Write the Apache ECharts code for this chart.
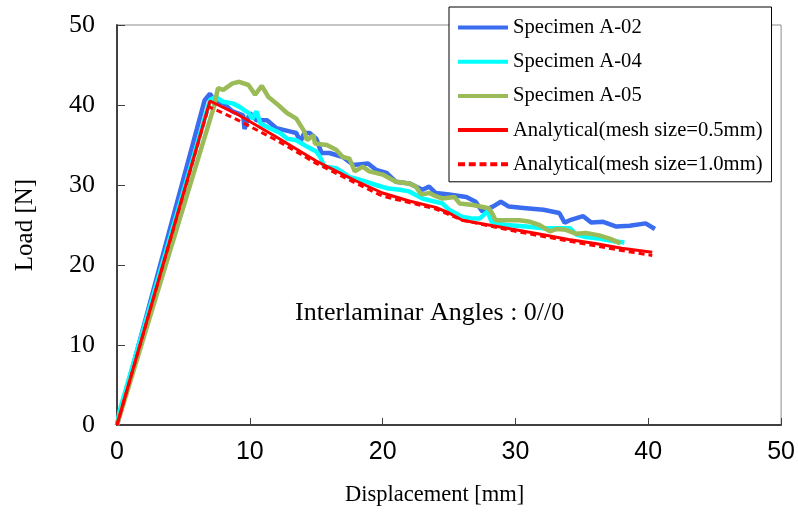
<!DOCTYPE html>
<html>
<head>
<meta charset="utf-8">
<script src="https://cdn.jsdelivr.net/npm/echarts@6/dist/echarts.min.js"></script>
<style>html,body{margin:0;padding:0;background:#fff;}#c{width:798px;height:513px;}</style>
</head>
<body>
<div id="c"></div>
<script>
// Tick labels
var xTicks = [0, 10, 20, 30, 40, 50];
var yTicks = [0, 10, 20, 30, 40, 50];
var seriesNames = ['Specimen A-02', 'Specimen A-04', 'Specimen A-05', 'Analytical(mesh size=0.5mm)', 'Analytical(mesh size=1.0mm)'];

// [displacement mm, load N]
var specimenA02 = [[0,0],[6.6,40.6],[7.0,41.4],[7.4,40.4],[8.0,40.2],[8.7,39.2],[9.5,38.7],[9.6,37.0],[10.0,39.0],[10.5,38.1],[11.3,38.1],[12.0,37.1],[13.0,36.7],[13.5,36.5],[13.8,35.4],[14.1,36.5],[14.5,36.5],[15.0,35.8],[15.4,34.0],[16.0,34.0],[17.0,33.5],[17.8,32.5],[18.9,32.7],[19.5,31.9],[20.3,31.5],[21.0,30.4],[22.0,30.2],[23.0,29.4],[23.5,29.8],[24.0,29.0],[25.0,28.8],[26.3,28.5],[27.0,27.9],[27.5,26.7],[28.3,27.3],[28.9,27.9],[29.5,27.3],[30.8,27.1],[32.1,26.9],[33.3,26.5],[33.7,25.3],[34.1,25.6],[35.1,26.1],[35.7,25.3],[36.6,25.4],[37.6,24.8],[38.6,24.9],[39.8,25.2],[40.5,24.5]];
var specimenA04 = [[0,0],[0.2,1.8],[7.0,40.6],[7.4,41.0],[8.0,40.4],[8.7,40.2],[9.2,39.8],[9.9,39.0],[10.2,38.3],[10.5,39.2],[10.8,37.7],[11.5,37.1],[12.3,36.5],[12.8,35.8],[13.5,35.6],[14.3,34.8],[15.0,34.2],[15.3,33.5],[15.6,32.3],[16.5,32.1],[17.5,31.0],[18.0,30.8],[18.8,30.4],[19.5,30.0],[20.3,29.6],[21.3,29.4],[22.0,29.2],[23.0,28.3],[23.5,28.1],[24.5,27.7],[25.0,26.9],[26.0,26.0],[26.8,25.8],[27.3,25.8],[27.9,26.7],[28.2,25.4],[29.3,25.0],[30.8,24.8],[32.1,24.6],[33.3,24.6],[34.1,24.6],[34.6,23.8],[35.3,23.5],[36.3,23.3],[37.3,23.0],[38.2,22.8]];
var specimenA05 = [[0,0],[7.3,39.8],[7.6,42.1],[8.0,41.9],[8.7,42.7],[9.2,42.9],[9.9,42.5],[10.4,41.3],[10.9,42.4],[11.4,41.0],[12.0,40.2],[12.8,39.0],[13.5,38.3],[14.1,36.7],[14.3,35.6],[14.8,36.2],[14.9,35.2],[15.8,35.0],[16.5,34.4],[17.0,33.5],[17.5,33.3],[17.9,31.7],[18.5,32.3],[19.0,31.7],[20.0,31.3],[21.0,30.4],[22.0,30.2],[22.5,29.8],[22.9,28.8],[23.5,29.0],[24.0,28.6],[24.5,28.3],[25.4,28.5],[25.8,27.7],[26.8,27.5],[28.0,27.1],[28.3,26.3],[28.5,25.6],[29.3,25.6],[30.3,25.6],[31.1,25.4],[31.8,25.0],[32.6,24.2],[33.1,24.5],[33.8,24.4],[34.6,23.9],[35.3,24.0],[36.3,23.7],[37.1,23.3],[37.9,22.7]];
var analytical05 = [[0,0],[7.0,40.5],[9,38.9],[12,36.0],[15,33.0],[18,30.5],[20,29.0],[22,28.0],[24,27.2],[25,26.5],[26,25.6],[28,25.0],[30,24.4],[32,23.8],[34,23.2],[36,22.7],[38,22.1],[40.3,21.6]];
var analytical10 = [[0,0],[6.9,39.8],[9,38.2],[12,35.6],[15,32.7],[18,30.2],[20,28.6],[22,27.8],[24,27.0],[26,25.6],[28,24.9],[30,24.2],[32,23.6],[34,23.0],[36,22.4],[38,21.8],[40.3,21.2]];

var serif = '"Liberation Serif", "Times New Roman", serif';
var dashIcon = 'path://M0,0h7v4h-7z M10.75,0h7v4h-7z M21.5,0h7v4h-7z M32.25,0h7v4h-7z M43,0h7v4h-7z';
var legendData = seriesNames.map(function (n, i) {
  return {name: n, icon: i === 4 ? dashIcon : 'rect'};
});
var chart = echarts.init(document.getElementById('c'), null, {renderer: 'canvas'});
chart.setOption({
  animation: false,
  backgroundColor: '#fff',
  grid: {left: 117, right: 16, top: 25, bottom: 88, show: true, borderColor: '#8c8c8c', borderWidth: 1},
  legend: {
    orient: 'vertical', left: 449, top: 7,
    padding: [10, 9, 7, 9], itemGap: 13.2, itemWidth: 50, itemHeight: 4,
    backgroundColor: '#fff', borderColor: '#000', borderWidth: 1,
    textStyle: {fontFamily: serif, fontSize: 20.6, color: '#000', lineHeight: 20, padding: [0,0,0,0]},
    data: legendData
  },
  xAxis: {
    type: 'value', min: xTicks[0], max: xTicks[xTicks.length-1], interval: 10,
    axisLine: {show: true, lineStyle: {color: '#404040', width: 2}},
    axisTick: {show: true, inside: true, length: 7, lineStyle: {color: '#404040', width: 1}},
    axisLabel: {fontFamily: '"Liberation Sans Narrow", "Liberation Sans", Arial, sans-serif', fontSize: 25, color: '#000', margin: 15},
    splitLine: {show: false}
  },
  yAxis: {
    type: 'value', min: yTicks[0], max: yTicks[yTicks.length-1], interval: 10,
    axisLine: {show: true, lineStyle: {color: '#404040', width: 2}},
    axisTick: {show: true, inside: true, length: 8, lineStyle: {color: '#404040', width: 1}},
    axisLabel: {fontFamily: serif, fontSize: 26, color: '#000', margin: 22},
    splitLine: {show: false},
    name: 'Load [N]', nameLocation: 'middle', nameGap: 79,
    nameTextStyle: {fontFamily: serif, fontSize: 25, color: '#000'}
  },
  graphic: [
    {type: 'text', left: 345, top: 484, style: {text: 'Displacement [mm]', font: '22.5px ' + serif, fill: '#000'}},
    {type: 'text', left: 295, top: 300, style: {text: 'Interlaminar Angles : 0//0', font: '26px ' + serif, fill: '#000'}}
  ],
  series: [
    {name: seriesNames[0], type: 'line', data: specimenA02, showSymbol: false, symbol: 'none', lineStyle: {color: '#3a6cf0', width: 4.5}, itemStyle: {color: '#3a6cf0'}, z: 2},
    {name: seriesNames[1], type: 'line', data: specimenA04, showSymbol: false, symbol: 'none', lineStyle: {color: '#00ffff', width: 4.5}, itemStyle: {color: '#00ffff'}, z: 3},
    {name: seriesNames[2], type: 'line', data: specimenA05, showSymbol: false, symbol: 'none', lineStyle: {color: '#9bbb59', width: 4.5}, itemStyle: {color: '#9bbb59'}, z: 4},
    {name: seriesNames[3], type: 'line', data: analytical05, showSymbol: false, symbol: 'none', lineStyle: {color: '#ff0000', width: 3}, itemStyle: {color: '#ff0000'}, z: 5},
    {name: seriesNames[4], type: 'line', data: analytical10, showSymbol: false, symbol: 'none', lineStyle: {color: '#ff0000', width: 3, type: [6, 4]}, itemStyle: {color: '#ff0000'}, z: 5}
  ]
});
</script>
</body>
</html>
